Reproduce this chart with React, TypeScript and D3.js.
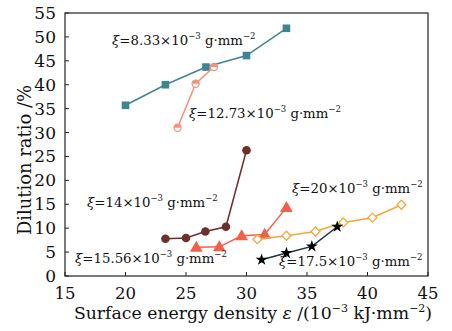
import * as d3 from "d3";
import React from "react";

// energy density (10^-3 kJ/mm2) and dilution ratio (%) per powder feed density
const s833X = [20, 23.3, 26.65, 30, 33.3];
const s833Y = [35.7, 40, 43.7, 46.1, 51.8];
const s1273X = [24.3, 25.8, 27.3];
const s1273Y = [31, 40.2, 43.7];
const s14X = [23.3, 25, 26.6, 28.3, 30];
const s14Y = [7.8, 7.95, 9.3, 10.3, 26.3];
const s1556X = [25.85, 27.75, 29.6, 31.5, 33.3];
const s1556Y = [6.0, 6.1, 8.4, 8.7, 14.3];
const s20X = [30.9, 33.3, 35.7, 38.0, 40.4, 42.8];
const s20Y = [7.7, 8.4, 9.3, 11.2, 12.2, 14.9];
const s175X = [31.25, 33.3, 35.4, 37.5];
const s175Y = [3.4, 4.8, 6.2, 10.3];

const xTicks = [15, 20, 25, 30, 35, 40, 45];
const yTicks = [0, 5, 10, 15, 20, 25, 30, 35, 40, 45, 50, 55];

const font = "DejaVu Serif, serif";

type Series = { xs: number[]; ys: number[]; color: string; marker: string; label: string; lx: number; ly: number };

const series: Series[] = [
  { xs: s833X, ys: s833Y, color: "#3f8590", marker: "square", label: "8.33", lx: 112, ly: 45 },
  { xs: s1273X, ys: s1273Y, color: "#f4907f", marker: "half", label: "12.73", lx: 189, ly: 118 },
  { xs: s14X, ys: s14Y, color: "#6e2e2a", marker: "circle", label: "14", lx: 87, ly: 207 },
  { xs: s1556X, ys: s1556Y, color: "#f0604a", marker: "triangle", label: "15.56", lx: 75, ly: 263 },
  { xs: s20X, ys: s20Y, color: "#f5a63c", marker: "diamond", label: "20", lx: 292, ly: 193 },
  { xs: s175X, ys: s175Y, color: "#1c3440", marker: "star", label: "17.5", lx: 279, ly: 266 },
];

function Marker({ kind, x, y, color }: { kind: string; x: number; y: number; color: string }) {
  if (kind === "square") return <rect x={x - 3.8} y={y - 3.8} width={7.6} height={7.6} fill={color} />;
  if (kind === "circle") return <circle cx={x} cy={y} r={4.3} fill={color} />;
  if (kind === "half")
    return (
      <g>
        <circle cx={x} cy={y} r={3.6} fill="#fff" stroke={color} strokeWidth={1.2} />
        <path d={`M${x - 3.6},${y} A3.6,3.6 0 0 1 ${x + 3.6},${y} Z`} fill={color} />
      </g>
    );
  if (kind === "triangle") {
    const p = d3.symbol(d3.symbolTriangle, 70)()!;
    return <path d={p} transform={`translate(${x},${y + 0.8})`} fill={color} />;
  }
  if (kind === "diamond")
    return (
      <path
        d={`M${x},${y - 4.5}L${x + 4.5},${y}L${x},${y + 4.5}L${x - 4.5},${y}Z`}
        fill="#fff"
        stroke={color}
        strokeWidth={1.3}
      />
    );
  const st = d3.symbol(d3.symbolStar, 45)()!;
  return <path d={st} transform={`translate(${x},${y})`} fill="#000" />;
}

function Label({ x, y, v }: { x: number; y: number; v: string }) {
  return (
    <text x={x} y={y} fontFamily={font} fontSize={13.3} fill="#111">
      <tspan fontStyle="italic">ξ</tspan>
      <tspan>={v}×10</tspan>
      <tspan fontSize={8.5} dy={-6}>−3</tspan>
      <tspan dy={6}> g·mm</tspan>
      <tspan fontSize={8.5} dy={-6}>−2</tspan>
    </text>
  );
}

export default function App() {
  const W = 452;
  const H = 331;
  const m = { left: 65, right: 428, top: 13, bottom: 276 };
  const x = d3.scaleLinear().domain([15, 45]).range([m.left, m.right]);
  const y = d3.scaleLinear().domain([0, 55]).range([m.bottom, m.top]);
  const line = d3.line<[number, number]>().x(d => x(d[0])).y(d => y(d[1]));

  return (
    <svg width={W} height={H} style={{ position: "absolute", left: 0, top: 0, background: "#fff" }}>
      <rect x={m.left} y={m.top} width={m.right - m.left} height={m.bottom - m.top} fill="none" stroke="#222" strokeWidth={1.2} />
      {xTicks.map(t => (
        <g key={"x" + t}>
          <line x1={x(t)} x2={x(t)} y1={m.bottom} y2={m.bottom - 4} stroke="#222" />
          <text x={x(t)} y={299} textAnchor="middle" fontFamily={font} fontSize={16.5} fill="#111">{t}</text>
        </g>
      ))}
      {yTicks.map(t => (
        <g key={"y" + t}>
          <line x1={m.left} x2={m.left + 4} y1={y(t)} y2={y(t)} stroke="#222" />
          <text x={56} y={y(t) + 6} textAnchor="end" fontFamily={font} fontSize={17} fill="#111">{t}</text>
        </g>
      ))}
      <text
        transform="translate(31,160) rotate(-90)"
        textAnchor="middle"
        fontFamily={font}
        fontSize={18}
        textLength={150}
        lengthAdjust="spacingAndGlyphs"
        fill="#111"
      >
        Dilution ratio /%
      </text>
      <text x={253} y={319} textAnchor="middle" fontFamily={font} fontSize={17.3} fill="#111">
        Surface energy density <tspan fontStyle="italic">ε</tspan> /(10
        <tspan fontSize={11} dy={-7}>−3</tspan>
        <tspan dy={7}> kJ·mm</tspan>
        <tspan fontSize={11} dy={-7}>−2</tspan>
        <tspan dy={7}>)</tspan>
      </text>
      {series.map((s, i) => {
        const pts = s.xs.map((v, j) => [v, s.ys[j]] as [number, number]);
        return (
          <g key={i}>
            <path d={line(pts)!} fill="none" stroke={s.color} strokeWidth={1.5} />
            {pts.map((p, j) => (
              <Marker key={j} kind={s.marker} x={x(p[0])} y={y(p[1])} color={s.color} />
            ))}
          </g>
        );
      })}
      {series.map((s, i) => (
        <Label key={"l" + i} x={s.lx} y={s.ly} v={s.label} />
      ))}
    </svg>
  );
}
